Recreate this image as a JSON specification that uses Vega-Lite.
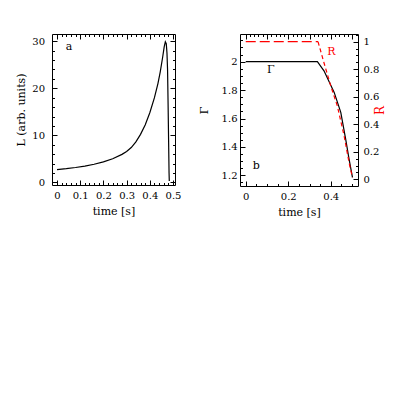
{
  "$schema": "https://vega.github.io/schema/vega-lite/v6.json",
  "padding": {"left": 15, "top": 33, "right": 5, "bottom": 5},
  "config": {
    "font": "DejaVu Serif",
    "view": {"stroke": "black", "strokeWidth": 1},
    "axis": {
      "domain": false,
      "labelFont": "DejaVu Serif",
      "labelFontSize": 10,
      "labelColor": "black",
      "titleFont": "DejaVu Serif",
      "titleFontSize": 11,
      "titleFontWeight": "normal",
      "titleColor": "black",
      "tickColor": "black",
      "tickWidth": 1,
      "grid": false
    }
  },
  "datasets": {
    "L": [
      {"t": 0, "L": 2.7}, {"t": 0.04, "L": 2.9}, {"t": 0.08, "L": 3.15}, {"t": 0.12, "L": 3.45},
      {"t": 0.16, "L": 3.85}, {"t": 0.2, "L": 4.35}, {"t": 0.24, "L": 5.0}, {"t": 0.28, "L": 5.95},
      {"t": 0.3, "L": 6.55}, {"t": 0.32, "L": 7.4}, {"t": 0.34, "L": 8.6}, {"t": 0.36, "L": 10.2},
      {"t": 0.38, "L": 12.2}, {"t": 0.4, "L": 14.8}, {"t": 0.42, "L": 18.0}, {"t": 0.435, "L": 21.0},
      {"t": 0.445, "L": 23.5}, {"t": 0.455, "L": 26.5}, {"t": 0.462, "L": 28.8}, {"t": 0.467, "L": 29.9},
      {"t": 0.471, "L": 29.5}, {"t": 0.474, "L": 27.5}, {"t": 0.4765, "L": 24}, {"t": 0.479, "L": 16},
      {"t": 0.481, "L": 9}, {"t": 0.483, "L": 2}, {"t": 0.484, "L": 0.3}
    ],
    "gamma": [
      {"t": 0, "g": 2.0}, {"t": 0.337, "g": 2.0}, {"t": 0.368, "g": 1.936}, {"t": 0.416, "g": 1.784},
      {"t": 0.447, "g": 1.643}, {"t": 0.47, "g": 1.455}, {"t": 0.486, "g": 1.314}, {"t": 0.502, "g": 1.185}
    ],
    "R": [
      {"t": 0, "R": 1.0, "seg": "flat"}, {"t": 0.34, "R": 1.0, "seg": "flat"},
      {"t": 0.34, "R": 1.0, "seg": "fall"}, {"t": 0.368, "R": 0.847, "seg": "fall"},
      {"t": 0.4, "R": 0.678, "seg": "fall"}, {"t": 0.431, "R": 0.532, "seg": "fall"},
      {"t": 0.463, "R": 0.314, "seg": "fall"}, {"t": 0.486, "R": 0.121, "seg": "fall"},
      {"t": 0.502, "R": 0.012, "seg": "fall"}
    ],
    "labA": [{"t": 0.052, "v": 28.8, "txt": "a"}],
    "labG": [{"t": 0.05, "v": 1.266, "txt": "b"}, {"t": 0.118, "v": 1.944, "txt": "Γ"}],
    "labR": [{"t": 0.403, "v": 0.927, "txt": "R"}]
  },
  "spacing": 15,
  "hconcat": [
    {
      "width": 123,
      "height": 151,
      "resolve": {"axis": {"x": "independent", "y": "independent"}},
      "layer": [
        {
          "data": {"name": "L"},
          "mark": {"type": "line", "color": "black", "strokeWidth": 1.2},
          "encoding": {
            "x": {"field": "t", "type": "quantitative", "scale": {"domain": [-0.0216, 0.5086], "nice": false, "zero": false},
              "axis": {"orient": "bottom", "values": [0, 0.1, 0.2, 0.3, 0.4, 0.5], "format": "~r", "title": "time [s]", "tickSize": -5, "labelPadding": 10, "titlePadding": 5}},
            "y": {"field": "L", "type": "quantitative", "scale": {"domain": [-0.57, 31.55], "nice": false, "zero": false},
              "axis": {"orient": "left", "values": [0, 10, 20, 30], "format": "~r", "title": "L (arb. units)", "tickSize": -5, "labelPadding": 12.5, "titlePadding": 5}}
          }
        },
        {
          "data": {"name": "labA"},
          "mark": {"type": "text", "font": "DejaVu Serif", "fontSize": 11, "color": "black"},
          "encoding": {
            "x": {"field": "t", "type": "quantitative", "scale": {"domain": [-0.0216, 0.5086], "nice": false, "zero": false},
              "axis": {"orient": "top", "values": [0, 0.1, 0.2, 0.3, 0.4, 0.5], "labels": false, "title": null, "tickSize": -5}},
            "y": {"field": "v", "type": "quantitative", "scale": {"domain": [-0.57, 31.55], "nice": false, "zero": false},
              "axis": {"orient": "right", "values": [0, 10, 20, 30], "labels": false, "title": null, "tickSize": -5}},
            "text": {"field": "txt"}
          }
        },
        {
          "data": {"name": "L"},
          "mark": {"type": "line", "opacity": 0},
          "encoding": {
            "x": {"field": "t", "type": "quantitative", "scale": {"domain": [-0.0216, 0.5086], "nice": false, "zero": false},
              "axis": {"orient": "bottom", "values": [0,0.02,0.04,0.06,0.08,0.1,0.12,0.14,0.16,0.18,0.2,0.22,0.24,0.26,0.28,0.3,0.32,0.34,0.36,0.38,0.4,0.42,0.44,0.46,0.48,0.5], "labels": false, "title": null, "tickSize": -2.5}},
            "y": {"field": "L", "type": "quantitative", "scale": {"domain": [-0.57, 31.55], "nice": false, "zero": false},
              "axis": {"orient": "left", "values": [0,2,4,6,8,10,12,14,16,18,20,22,24,26,28,30], "labels": false, "title": null, "tickSize": -2.5}}
          }
        },
        {
          "data": {"name": "L"},
          "mark": {"type": "line", "opacity": 0},
          "encoding": {
            "x": {"field": "t", "type": "quantitative", "scale": {"domain": [-0.0216, 0.5086], "nice": false, "zero": false},
              "axis": {"orient": "top", "values": [0,0.02,0.04,0.06,0.08,0.1,0.12,0.14,0.16,0.18,0.2,0.22,0.24,0.26,0.28,0.3,0.32,0.34,0.36,0.38,0.4,0.42,0.44,0.46,0.48,0.5], "labels": false, "title": null, "tickSize": -2.5}},
            "y": {"field": "L", "type": "quantitative", "scale": {"domain": [-0.57, 31.55], "nice": false, "zero": false},
              "axis": {"orient": "right", "values": [0,2,4,6,8,10,12,14,16,18,20,22,24,26,28,30], "labels": false, "title": null, "tickSize": -2.5}}
          }
        }
      ]
    },
    {
      "width": 118,
      "height": 152,
      "resolve": {"scale": {"y": "independent"}, "axis": {"x": "independent", "y": "independent"}},
      "layer": [
        {
          "data": {"name": "gamma"},
          "mark": {"type": "line", "color": "black", "strokeWidth": 1.2},
          "encoding": {
            "x": {"field": "t", "type": "quantitative", "scale": {"domain": [-0.027, 0.528], "nice": false, "zero": false},
              "axis": {"orient": "bottom", "values": [0, 0.2, 0.4], "format": "~r", "title": "time [s]", "tickSize": -5, "labelPadding": 10, "titlePadding": 5}},
            "y": {"field": "g", "type": "quantitative", "scale": {"domain": [1.125, 2.195], "nice": false, "zero": false},
              "axis": {"orient": "left", "values": [1.2, 1.4, 1.6, 1.8, 2.0], "format": "~r", "title": "Γ", "tickSize": -5, "labelPadding": 8, "titlePadding": 12}}
          }
        },
        {
          "data": {"name": "R"},
          "mark": {"type": "line", "color": "#ff0000", "strokeWidth": 1.2},
          "encoding": {
            "x": {"field": "t", "type": "quantitative", "scale": {"domain": [-0.027, 0.528], "nice": false, "zero": false},
              "axis": {"orient": "top", "values": [0, 0.1, 0.2, 0.3, 0.4, 0.5], "labels": false, "title": null, "tickSize": -5}},
            "y": {"field": "R", "type": "quantitative", "scale": {"domain": [-0.049, 1.056], "nice": false, "zero": false},
              "axis": {"orient": "right", "values": [0, 0.2, 0.4, 0.6, 0.8, 1], "format": "~r", "title": "R", "titleColor": "#ff0000", "titleFontSize": 12, "titleAngle": 270, "tickSize": -5, "labelPadding": 10, "titlePadding": 8}},
            "detail": {"field": "seg"},
            "strokeDash": {"field": "seg", "type": "nominal", "scale": {"domain": ["flat", "fall"], "range": [[10, 4], [4, 3]]}, "legend": null}
          }
        },
        {
          "data": {"name": "gamma"},
          "mark": {"type": "line", "opacity": 0},
          "encoding": {
            "x": {"field": "t", "type": "quantitative", "scale": {"domain": [-0.027, 0.528], "nice": false, "zero": false},
              "axis": {"orient": "bottom", "values": [0,0.05,0.1,0.15,0.2,0.25,0.3,0.35,0.4,0.45,0.5], "labels": false, "title": null, "tickSize": -2.5}},
            "y": {"field": "g", "type": "quantitative", "scale": {"domain": [1.125, 2.195], "nice": false, "zero": false},
              "axis": {"orient": "left", "values": [1.15,1.2,1.25,1.3,1.35,1.4,1.45,1.5,1.55,1.6,1.65,1.7,1.75,1.8,1.85,1.9,1.95,2.0,2.05,2.1,2.15], "labels": false, "title": null, "tickSize": -2.5}}
          }
        },
        {
          "data": {"name": "R"},
          "mark": {"type": "line", "opacity": 0},
          "encoding": {
            "x": {"field": "t", "type": "quantitative", "scale": {"domain": [-0.027, 0.528], "nice": false, "zero": false},
              "axis": {"orient": "top", "values": [0,0.02,0.04,0.06,0.08,0.1,0.12,0.14,0.16,0.18,0.2,0.22,0.24,0.26,0.28,0.3,0.32,0.34,0.36,0.38,0.4,0.42,0.44,0.46,0.48,0.5], "labels": false, "title": null, "tickSize": -2.5}},
            "y": {"field": "R", "type": "quantitative", "scale": {"domain": [-0.049, 1.056], "nice": false, "zero": false},
              "axis": {"orient": "right", "values": [0,0.05,0.1,0.15,0.2,0.25,0.3,0.35,0.4,0.45,0.5,0.55,0.6,0.65,0.7,0.75,0.8,0.85,0.9,0.95,1.0,1.05], "labels": false, "title": null, "tickSize": -2.5}}
          }
        },
        {
          "data": {"name": "labG"},
          "mark": {"type": "text", "font": "DejaVu Serif", "fontSize": 11, "color": "black"},
          "encoding": {
            "x": {"field": "t", "type": "quantitative", "scale": {"domain": [-0.027, 0.528], "nice": false, "zero": false}, "axis": null},
            "y": {"field": "v", "type": "quantitative", "scale": {"domain": [1.125, 2.195], "nice": false, "zero": false}, "axis": null},
            "text": {"field": "txt"}
          }
        },
        {
          "data": {"name": "labR"},
          "mark": {"type": "text", "font": "DejaVu Serif", "fontSize": 11, "color": "#ff0000"},
          "encoding": {
            "x": {"field": "t", "type": "quantitative", "scale": {"domain": [-0.027, 0.528], "nice": false, "zero": false}, "axis": null},
            "y": {"field": "v", "type": "quantitative", "scale": {"domain": [-0.049, 1.056], "nice": false, "zero": false}, "axis": null},
            "text": {"field": "txt"}
          }
        }
      ]
    }
  ]
}
